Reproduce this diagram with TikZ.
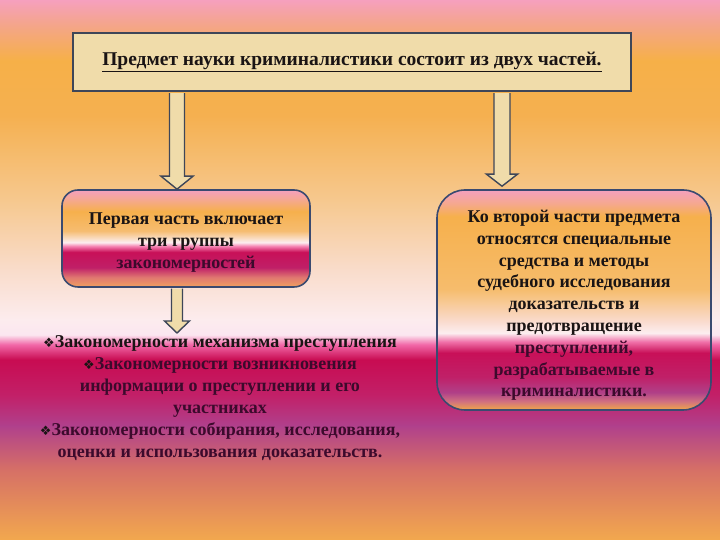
\documentclass[tikz,border=0pt]{standalone}
\usepackage{fontspec}
\setmainfont{Liberation Serif}
\newfontfamily\dejavu{DejaVu Sans}
\usepackage{tikz}
\usetikzlibrary{calc}

\definecolor{parch}{HTML}{F0DCAA}
\definecolor{frame}{HTML}{3E4658}
\definecolor{boxline}{HTML}{3A4A70}
\definecolor{ink}{HTML}{1A1414}
\definecolor{plum}{HTML}{3C0A2C}

\definecolor{g0}{HTML}{F2A84E}\definecolor{g1}{HTML}{D67066}\definecolor{g2}{HTML}{B0408C}
\definecolor{g3}{HTML}{C22068}\definecolor{g4}{HTML}{C80C52}\definecolor{g5}{HTML}{F268A8}
\definecolor{g6}{HTML}{FBE6F0}\definecolor{g7}{HTML}{FCECEE}\definecolor{g8}{HTML}{F9DCCB}
\definecolor{g9}{HTML}{F6C88E}\definecolor{g10}{HTML}{F5B050}\definecolor{g11}{HTML}{F6B048}
\definecolor{g12}{HTML}{F4A58A}\definecolor{g13}{HTML}{F6A0BE}

\definecolor{k0}{HTML}{F0A060}\definecolor{k1}{HTML}{E07870}\definecolor{k2}{HTML}{C02068}
\definecolor{k3}{HTML}{C81058}\definecolor{k4}{HTML}{F580B0}\definecolor{k5}{HTML}{FCEEF0}
\definecolor{k6}{HTML}{F6BC70}\definecolor{k7}{HTML}{F6B04C}\definecolor{k8}{HTML}{F5A890}
\definecolor{k9}{HTML}{F4A0BE}

\definecolor{r0}{HTML}{F0A848}\definecolor{r1}{HTML}{D07080}\definecolor{r2}{HTML}{B04088}
\definecolor{r3}{HTML}{C02068}\definecolor{r4}{HTML}{C81058}\definecolor{r5}{HTML}{F070A8}
\definecolor{r6}{HTML}{FCEEF0}\definecolor{r7}{HTML}{FADCD0}\definecolor{r8}{HTML}{F6BC6C}
\definecolor{r9}{HTML}{F6B04C}\definecolor{r10}{HTML}{F5A890}\definecolor{r11}{HTML}{F4A0BE}

\pgfdeclareverticalshading{bggrad}{100bp}{color(0bp)=(g0); color(25bp)=(g0);
  color(31.5bp)=(g1); color(35.6bp)=(g2); color(38.4bp)=(g3); color(41.7bp)=(g4);
  color(43.1bp)=(g5); color(44bp)=(g6); color(45.4bp)=(g7); color(50bp)=(g8);
  color(56.5bp)=(g9); color(64.3bp)=(g10); color(69.4bp)=(g11); color(72.7bp)=(g12);
  color(75bp)=(g13); color(100bp)=(g13)}
\pgfdeclareverticalshading{lgrad}{100bp}{color(0bp)=(k0); color(25bp)=(k0);
  color(30bp)=(k1); color(35bp)=(k2); color(43bp)=(k3); color(46bp)=(k4);
  color(48bp)=(k5); color(54bp)=(k6); color(64bp)=(k7); color(70bp)=(k8);
  color(75bp)=(k9); color(100bp)=(k9)}
\pgfdeclareverticalshading{rgrad}{100bp}{color(0bp)=(r0); color(25bp)=(r0);
  color(27bp)=(r1); color(29bp)=(r2); color(32.5bp)=(r3); color(38bp)=(r4);
  color(40.5bp)=(r5); color(42.5bp)=(r6); color(45bp)=(r7); color(52.5bp)=(r8);
  color(69bp)=(r9); color(72bp)=(r10); color(75bp)=(r11); color(100bp)=(r11)}

\newcommand\dia{{\dejavu\fontsize{13}{13}\selectfont\char"2756}}
\newcommand\blockarrow[5]{%
  \draw[barrow] ($(#1)+(-#3,0)$) -- ($(#2)+(-#3,#5)$) -- ($(#2)+(-#4,#5)$) -- (#2)
    -- ($(#2)+(#4,#5)$) -- ($(#2)+(#3,#5)$) -- ($(#1)+(#3,0)$);}

\begin{document}
\begin{tikzpicture}[
  x=1pt,y=1pt,
  hdr/.style={rectangle,draw=frame,fill=parch,line width=2pt,minimum width=558pt,minimum height=58pt,inner sep=0pt,text=ink,font=\bfseries\fontsize{19.5}{22}\selectfont},
  pbox/.style={rectangle,draw=boxline,line width=1.6pt,inner sep=0pt},
  plain/.style={inner sep=0pt,align=center,text=ink,font=\bfseries\fontsize{18}{22}\selectfont},
  barrow/.style={draw=frame,fill=parch,line width=1.4pt,line join=miter}
]
\shade[shading=bggrad] (0,0) rectangle (720,540);

\node[hdr] (top) at (352,478) {\underline{Предмет науки криминалистики состоит из двух частей.}};

\node[pbox,shading=lgrad,rounded corners=16pt,minimum width=248pt,minimum height=97pt] (lbox) at (186,301.5) {};
\node[pbox,shading=rgrad,rounded corners=28pt,minimum width=274pt,minimum height=220pt] (rbox) at (574,240) {};

\node[plain] (ltxt) at ($(lbox.center)+(0,-4)$)
  {Первая часть включает\\ три группы\\ \textcolor{plum}{закономерностей}};
\node[plain,font=\bfseries\fontsize{18}{21.8}\selectfont] (rtxt) at ($(rbox.center)+(0,-5.5)$)
  {Ко второй части предмета\\ относятся специальные\\ средства и методы\\ судебного исследования\\ доказательств и\\ предотвращение\\ \textcolor{plum}{преступлений,}\\ \textcolor{plum}{разрабатываемые в}\\ \textcolor{plum}{криминалистики.}};

\node[plain] (grp) at (220,142)
  {\dia Закономерности механизма преступления\\
   \dia\textcolor{plum}{Закономерности возникновения}\\
   \textcolor{plum}{информации о преступлении и его}\\
   \textcolor{plum}{участниках}\\
   \dia\textcolor{plum}{Закономерности собирания, исследования,}\\
   \textcolor{plum}{оценки и использования доказательств.}};

\coordinate (c1) at (177,0);
\coordinate (c2) at (502,0);
\coordinate (s1) at ($(top.south -| c1)+(0,-1.2)$);
\coordinate (s2) at ($(top.south -| c2)+(0,-1.2)$);
\coordinate (s3) at ($(lbox.south -| c1)+(0,-0.9)$);
\coordinate (e1) at (lbox.north -| c1);
\coordinate (e2) at ($(rbox.north -| c2)+(0,3)$);
\coordinate (e3) at (c1 |- 0,207);

\blockarrow{s1}{e1}{7.5}{16}{13}
\blockarrow{s2}{e2}{8}{15.5}{12}
\blockarrow{s3}{e3}{5.5}{12.5}{12}
\end{tikzpicture}
\end{document}
